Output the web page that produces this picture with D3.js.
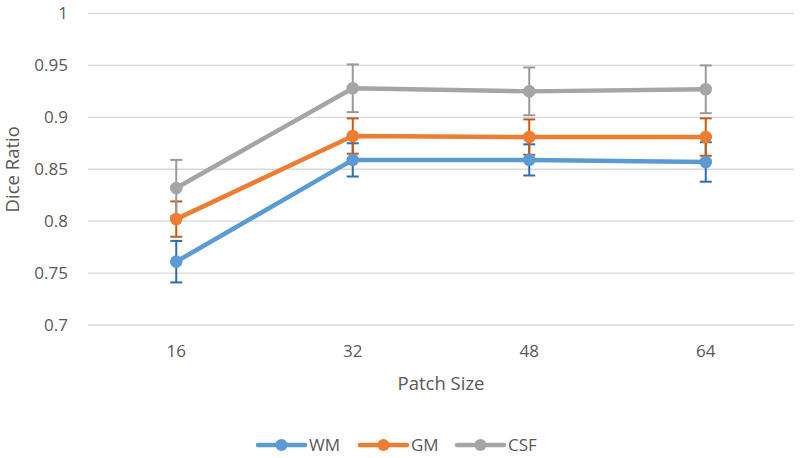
<!DOCTYPE html>
<html><head><meta charset="utf-8">
<script src="https://cdn.jsdelivr.net/npm/d3@7"></script>
<style>body{margin:0;background:#fff;}svg{display:block;font-family:"Open Sans",sans-serif;}</style>
</head><body>
<svg id="c" width="800" height="458"></svg>
<script>
const categories = ["16","32","48","64"];
const yTicks = [0.7,0.75,0.8,0.85,0.9,0.95,1];
const seriesNames = ["WM","GM","CSF"];
const wmValues = [0.761,0.859,0.859,0.857];
const wmErrors = [0.020,0.016,0.015,0.019];
const gmValues = [0.802,0.882,0.881,0.881];
const gmErrors = [0.017,0.017,0.017,0.018];
const csfValues = [0.832,0.928,0.925,0.927];
const csfErrors = [0.027,0.023,0.023,0.023];
const lineColors = ["#5b9bd5","#ed7d31","#a5a5a5"];
const errColors = ["#2e6db4","#c55a11","#9a9a9a"];

const series = [
  {name:seriesNames[0], values:wmValues, errors:wmErrors},
  {name:seriesNames[1], values:gmValues, errors:gmErrors},
  {name:seriesNames[2], values:csfValues, errors:csfErrors}
];

const svg = d3.select("#c");
const pL=88, pR=794, pT=13.5, pB=325;
const x = d3.scaleBand().domain(categories).range([pL,pR]);
const y = d3.scaleLinear().domain([0.7,1]).range([pB,pT]);
const cx = c => x(c)+x.bandwidth()/2;

// gridlines
svg.append("g").selectAll("line").data(yTicks).join("line")
  .attr("x1",pL).attr("x2",pR)
  .attr("y1",d=>y(d)).attr("y2",d=>y(d))
  .attr("stroke","#d9d9d9").attr("stroke-width",1.3);

// y axis labels
const yAxis = d3.axisLeft(y).tickValues(yTicks).tickSize(0).tickPadding(20).tickFormat(d=>String(+d.toFixed(2)));
const ya = svg.append("g").attr("transform",`translate(${pL},0)`).call(yAxis);
ya.select(".domain").remove();
ya.selectAll("text").attr("font-size",17).attr("fill","#595959").attr("font-family","Open Sans");

// x axis labels
const xAxis = d3.axisBottom(x).tickSize(0).tickPadding(20);
const xa = svg.append("g").attr("transform",`translate(0,${pB})`).call(xAxis);
xa.select(".domain").remove();
xa.selectAll("text").attr("font-size",17).attr("fill","#595959").attr("font-family","Open Sans");

// axis titles
svg.append("text").attr("x",(pL+pR)/2).attr("y",390).attr("text-anchor","middle")
  .attr("font-size",18.5).attr("fill","#595959").text("Patch Size");
svg.append("text").attr("transform",`translate(19,${(pT+pB)/2}) rotate(-90)`).attr("text-anchor","middle")
  .attr("font-size",18.5).attr("fill","#595959").text("Dice Ratio");

// error bars
series.forEach((s,i)=>{
  const g = svg.append("g");
  categories.forEach((c,j)=>{
    const v=s.values[j], e=s.errors[j], xx=cx(c);
    g.append("line").attr("x1",xx).attr("x2",xx).attr("y1",y(v-e)).attr("y2",y(v+e))
      .attr("stroke",errColors[i]).attr("stroke-width",2);
    [v-e,v+e].forEach(t=>{
      g.append("line").attr("x1",xx-6).attr("x2",xx+6).attr("y1",y(t)).attr("y2",y(t))
        .attr("stroke",errColors[i]).attr("stroke-width",2);
    });
  });
});

// lines and markers
const line = d3.line().x((d,j)=>cx(categories[j])).y(d=>y(d));
series.forEach((s,i)=>{
  svg.append("path").datum(s.values).attr("d",line).attr("fill","none")
    .attr("stroke",lineColors[i]).attr("stroke-width",4.5).attr("stroke-linejoin","round").attr("stroke-linecap","round");
  svg.append("g").selectAll("circle").data(s.values).join("circle")
    .attr("cx",(d,j)=>cx(categories[j])).attr("cy",d=>y(d)).attr("r",6.3)
    .attr("fill",lineColors[i]);
});

// legend
const legX = [258,360,457];
series.forEach((s,i)=>{
  const g = svg.append("g").attr("transform",`translate(${legX[i]},445)`);
  g.append("line").attr("x1",0).attr("x2",47).attr("y1",0).attr("y2",0)
    .attr("stroke",lineColors[i]).attr("stroke-width",4.5).attr("stroke-linecap","round");
  g.append("circle").attr("cx",23.5).attr("cy",0).attr("r",6).attr("fill",lineColors[i]);
  g.append("text").attr("x",51).attr("y",6).attr("font-size",17).attr("fill","#595959").text(s.name);
});
</script>
</body></html>
